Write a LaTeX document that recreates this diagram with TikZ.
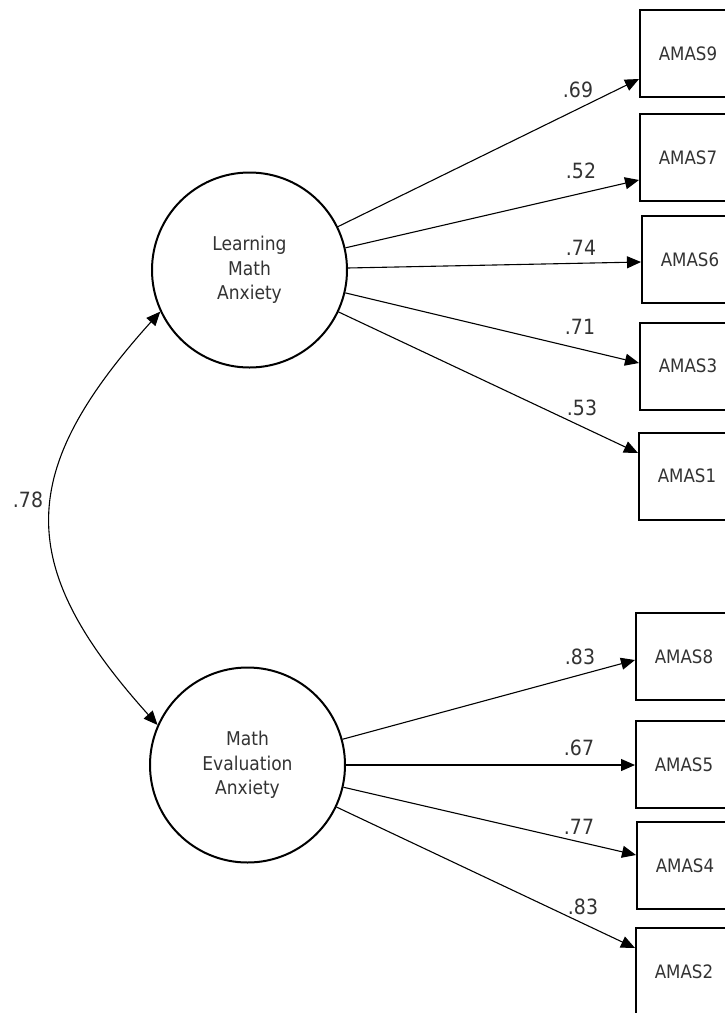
\documentclass[tikz,border=0pt]{standalone}
\usepackage{fontspec}
\setmainfont{DejaVu Sans Condensed}
\usetikzlibrary{arrows.meta,calc}
\begin{document}
\begin{tikzpicture}[x=1pt,y=-1pt,
  latent/.style={circle,draw,line width=2pt,minimum size=195pt,inner sep=0pt,align=center,
    font=\fontsize{19}{24.5}\selectfont,text=black!80},
  obs/.style={rectangle,draw,line width=2pt,minimum width=96pt,minimum height=87pt,anchor=west,
    inner sep=0pt,font=\fontsize{18.5}{20}\selectfont,text=black!80},
  tip/.tip={Triangle[length=14pt,width=12pt]},
  load/.style={line width=1.1pt,-tip},
  covar/.style={line width=1.1pt,tip-tip},
  coef/.style={font=\fontsize{21}{22}\selectfont,text=black!80,inner sep=0pt},
]
\fill[white] (0,0) rectangle (725,1013);
\useasboundingbox (0,0) rectangle (725,1013);

\node[latent] (lma) at (249.5,270) {Learning\\Math\\Anxiety};
\node[latent] (mea) at (247.5,765) {Math\\Evaluation\\Anxiety};

\node[obs] (b9) at (639,53.5) {AMAS9};
\node[obs] (b7) at (639,157.5) {AMAS7};
\node[obs] (b6) at (641,259.5) {AMAS6};
\node[obs] (b3) at (639,366) {AMAS3};
\node[obs] (b1) at (638,476) {AMAS1};
\node[obs] (b8) at (635,656.5) {AMAS8};
\node[obs] (b5) at (635,764.5) {AMAS5};
\node[obs] (b4) at (636,865.5) {AMAS4};
\node[obs] (b2) at (635,971.5) {AMAS2};

\draw[load] (lma) -- ($(b9.west)+(0,25.5)$);
\draw[load] (lma) -- ($(b7.west)+(0,22.5)$);
\draw[load] (lma) -- ($(b6.west)+(0,2.5)$);
\draw[load] (lma) -- ($(b3.west)+(0,-3)$);
\draw[load] (lma) -- ($(b1.west)+(0,-23)$);
\draw[load] (mea) -- ($(b8.west)+(0,3.5)$);
\draw[load] (mea) -- ($(b5.west)+(0,0.5)$);
\draw[load] (mea) -- ($(b4.west)+(0,-10.5)$);
\draw[load] (mea) -- ($(b2.west)+(0,-23.5)$);

\draw[covar] (lma.205) .. controls +(-144,160) and +(-144,-160) .. (mea.156);

\node[coef] (l9) at (578,90) {.69};
\node[coef] (l7) at (581,171) {.52};
\node[coef] (l6) at (581,248) {.74};
\node[coef] (l3) at (580,327) {.71};
\node[coef] (l1) at (582,408) {.53};
\node[coef] (l8) at (580,657) {.83};
\node[coef] (l5) at (579,748) {.67};
\node[coef] (l4) at (579,827) {.77};
\node[coef] (l2) at (583,907) {.83};
\node[coef] (lc) at (28,500) {.78};
\end{tikzpicture}
\end{document}
